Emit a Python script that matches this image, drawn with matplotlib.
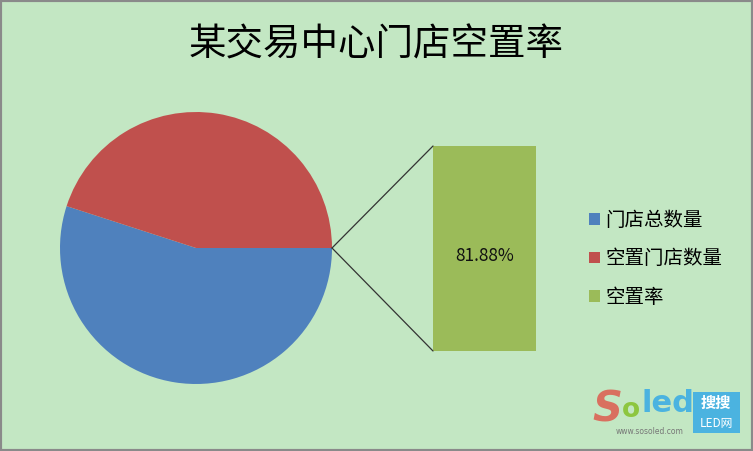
import matplotlib
matplotlib.use("Agg")
import matplotlib.pyplot as plt
from matplotlib.patches import ConnectionPatch, Patch, Rectangle

plt.rcParams['font.family'] = ['Noto Sans CJK SC', 'DejaVu Sans']

title = "某交易中心门店空置率"
labels = ["门店总数量", "空置门店数量", "空置率"]
pie_values = [1.0, 0.8188]          # 门店总数量 (relative), 空置门店数量
rate_value = 81.88                   # 空置率 (%)
colors = ["#4F81BD", "#C0504D", "#9BBB59"]
bg = "#C3E7C3"

W, H = 753, 451
fig = plt.figure(figsize=(W / 100, H / 100), dpi=100, facecolor=bg)

# border
fig.patches.append(Rectangle((0, 0), 1, 1, transform=fig.transFigure,
                             fill=False, edgecolor="#8A8A8A", linewidth=3))

def box(x0, y0, x1, y1):
    return [x0 / W, 1 - y1 / H, (x1 - x0) / W, (y1 - y0) / H]

# pie
axp = fig.add_axes(box(60, 112, 332, 384))
axp.set_facecolor(bg)
start = 360 * pie_values[1] / sum(pie_values)
axp.pie(pie_values, colors=colors[:2], startangle=start, counterclock=True,
        radius=1.0, wedgeprops=dict(linewidth=0))
axp.set_xlim(-1, 1)
axp.set_ylim(-1, 1)
axp.set_aspect("equal")
axp.axis("off")

# bar
axb = fig.add_axes(box(433, 146, 536, 351))
axb.bar([0], [rate_value], width=0.8, color=colors[2], linewidth=0)
axb.set_xlim(-0.4, 0.4)
axb.set_ylim(0, rate_value)
axb.axis("off")
axb.text(0.5, 0.465, f"{rate_value:.2f}%", ha="center", va="center",
         fontsize=12.5, color="#111111", transform=axb.transAxes)

for yb in (rate_value, 0):
    con = ConnectionPatch(xyA=(1, 0), coordsA=axp.transData,
                          xyB=(-0.4, yb), coordsB=axb.transData,
                          color="#333333", linewidth=0.9)
    fig.add_artist(con)

# title
fig.text(376 / W, 1 - 45 / H, title, ha="center", va="center", fontsize=27, color="black")

# legend
handles = [Patch(facecolor=c, edgecolor="none") for c in colors]
fig.legend(handles, labels, loc="center left", bbox_to_anchor=(589 / W, 1 - 259 / H),
           frameon=False, fontsize=14, labelspacing=0.9, handlelength=0.55,
           handleheight=0.55, handletextpad=0.3, borderpad=0, borderaxespad=0)

# watermark
fig.text(607 / W, 1 - 410 / H, "S", fontsize=30, color="#D9705F", fontstyle="italic",
         fontweight="bold", ha="center", va="center", family=["DejaVu Sans"])
fig.text(631 / W, 1 - 410 / H, "o", fontsize=19, color="#8DC63F", fontweight="bold",
         ha="center", va="center", family=["DejaVu Sans"])
fig.text(668 / W, 1 - 403 / H, "led", fontsize=22, color="#4BB3E0", fontweight="bold",
         ha="center", va="center", family=["DejaVu Sans"])
fig.text(650 / W, 1 - 432 / H, "www.sosoled.com", fontsize=5.5, color="#777777",
         ha="center", va="center", family=["DejaVu Sans"])
fig.patches.append(Rectangle((693 / W, 1 - 433 / H), 47 / W, 41 / H, transform=fig.transFigure,
                             facecolor="#4BB3E0", edgecolor="none"))
fig.text(716 / W, 1 - 403 / H, "搜搜", fontsize=11, color="white", fontweight="bold",
         ha="center", va="center")
fig.text(716 / W, 1 - 424 / H, "LED网", fontsize=8.5, color="white",
         ha="center", va="center")

fig.savefig("out.png", dpi=100, facecolor=bg)
